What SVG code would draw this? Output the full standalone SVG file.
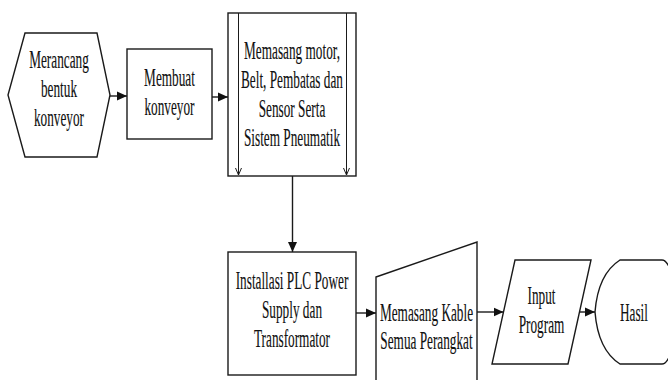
<svg xmlns="http://www.w3.org/2000/svg" width="668" height="380" viewBox="0 0 668 380">
  <style>
    .shape { fill: #ffffff; stroke: #1a1a1a; stroke-width: 1.4; }
    .flow { fill: none; stroke: #1a1a1a; stroke-width: 1.4; marker-end: url(#head); }
    .inner { fill: none; stroke: #1a1a1a; stroke-width: 1; marker-end: url(#open); }
    text { font-family: "Liberation Serif", "Times New Roman", serif; font-size: 26px; fill: #111111; stroke: #111111; stroke-width: 0.15; text-anchor: middle; }
  </style>
  <defs>
    <marker id="head" markerUnits="userSpaceOnUse" markerWidth="10" markerHeight="10" viewBox="0 0 10 10" refX="10" refY="5" orient="auto">
      <path d="M0,0.5 L10,5 L0,9.5 Z" fill="#111111"/>
    </marker>
    <marker id="open" markerUnits="userSpaceOnUse" markerWidth="8" markerHeight="8" viewBox="0 0 8 8" refX="7.5" refY="4" orient="auto">
      <path d="M0,0.8 L7.5,4 L0,7.2" fill="none" stroke="#1a1a1a" stroke-width="1"/>
    </marker>
  </defs>

  <!-- connectors -->
  <g id="connectors">
    <line class="flow" x1="110" y1="96" x2="127" y2="96"/>
    <line class="flow" x1="212" y1="97" x2="228" y2="97"/>
    <line class="flow" x1="292.5" y1="176" x2="292.5" y2="252"/>
    <line class="flow" x1="356" y1="313" x2="376" y2="313"/>
    <line class="flow" x1="477" y1="312" x2="503.5" y2="312"/>
    <line class="flow" x1="580" y1="312" x2="595" y2="312"/>
  </g>

  <!-- start: hexagon -->
  <g id="merancang">
    <polygon class="shape" points="25,33 97,33 110,95 97,157 25,157 8,95"/>
    <g transform="translate(59,0) scale(0.51,1)">
      <text x="0" y="68">Merancang</text>
      <text x="0" y="97">bentuk</text>
      <text x="0" y="126">konveyor</text>
    </g>
  </g>

  <!-- process box -->
  <g id="membuat">
    <rect class="shape" x="127" y="49" width="85" height="90"/>
    <g transform="translate(169.5,0) scale(0.51,1)">
      <text x="0" y="86">Membuat</text>
      <text x="0" y="115">konveyor</text>
    </g>
  </g>

  <!-- box with inner flow lines -->
  <g id="memasang-motor">
    <rect class="shape" x="228" y="13" width="128" height="163"/>
    <line class="inner" x1="238.5" y1="13" x2="238.5" y2="175"/>
    <line class="inner" x1="346.5" y1="13" x2="346.5" y2="175"/>
    <g transform="translate(292,0) scale(0.51,1)">
      <text x="0" y="59">Memasang motor,</text>
      <text x="0" y="88">Belt, Pembatas dan</text>
      <text x="0" y="117">Sensor Serta</text>
      <text x="0" y="146">Sistem Pneumatik</text>
    </g>
  </g>

  <!-- process box -->
  <g id="installasi">
    <rect class="shape" x="228" y="252" width="128" height="123"/>
    <g transform="translate(292,0) scale(0.51,1)">
      <text x="0" y="289">Installasi PLC Power</text>
      <text x="0" y="318">Supply dan</text>
      <text x="0" y="347">Transformator</text>
    </g>
  </g>

  <!-- manual input -->
  <g id="memasang-kable">
    <polygon class="shape" points="376,277 477,242 477,392 376,392"/>
    <g transform="translate(426.5,0) scale(0.51,1)">
      <text x="0" y="321">Memasang Kable</text>
      <text x="0" y="349">Semua Perangkat</text>
    </g>
  </g>

  <!-- data: parallelogram -->
  <g id="input-program">
    <polygon class="shape" points="515,260 591,260 568,364 492,364"/>
    <g transform="translate(541.5,0) scale(0.51,1)">
      <text x="0" y="304">Input</text>
      <text x="0" y="333">Program</text>
    </g>
  </g>

  <!-- display shape -->
  <g id="hasil">
    <path class="shape" d="M620,260 L662,260 A14,52 0 0 1 662,364 L620,364 Q598,350 595,312 Q598,274 620,260 Z"/>
    <g transform="translate(634,0) scale(0.51,1)">
      <text x="0" y="321">Hasil</text>
    </g>
  </g>
</svg>
